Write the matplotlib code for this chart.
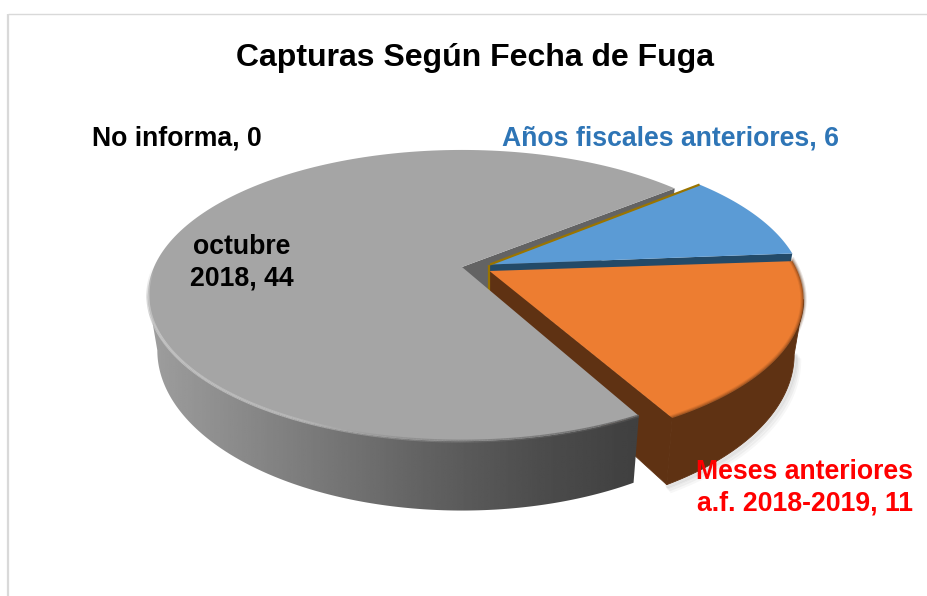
import numpy as np
import matplotlib
matplotlib.use("Agg")
import matplotlib.pyplot as plt
from matplotlib.patches import Polygon
from matplotlib.collections import LineCollection

plt.rcParams['font.family'] = ['Liberation Sans', 'DejaVu Sans']

# --- data ---
title = "Capturas Según Fecha de Fuga"
categories = ["Años fiscales anteriores", "Meses anteriores\na.f. 2018-2019", "octubre\n2018", "No informa"]
values = [6, 11, 44, 0]

# --- style / layout ---
face_colors = ["#5b9bd5", "#ed7d31", "#a5a5a5"]
cut_colors = ["#234a68", "#5f3213", "#636363"]
apexes = [(490, 264.5), (489.5, 271), (462, 267)]
start_angle = 40.0
nudges = [(0, 0), (-0.5, -0.2), (-0.9, -1.3)]  # per-slice drawing offset (start, end) in degrees
A, B, P = 308.0, 140.0, 0.196
A_SCALE, B_SCALE, DEPTH = 0.97, 1.10, 52.0
TANGENT = np.degrees(np.arcsin(P))

fig = plt.figure(figsize=(9.27, 5.96), dpi=100)
ax = fig.add_axes([0, 0, 1, 1])


def project(theta, apex, level=0.0):
    """Perspective projection of the disc rim, level 0=top, 1=bottom."""
    t = np.radians(theta)
    u, v = np.cos(t), np.sin(t)
    w = 1 + P * v
    sa = 1 + (A_SCALE - 1) * level
    sb = 1 + (B_SCALE - 1) * level
    return np.column_stack((apex[0] + sa * A * u / w,
                            apex[1] + DEPTH * level - sb * B * v / w))


total = sum(values)
spans = [v / total * 360 for v in values]
edges = start_angle - np.concatenate(([0], np.cumsum(spans)))

blue_hi, blue_lo = edges[0] + nudges[0][0], edges[1] + nudges[0][1]
orange_hi, orange_lo = edges[1] + nudges[1][0], edges[2] + nudges[1][1]
gray_lo, gray_hi = edges[2] + nudges[2][1], edges[3] + nudges[2][0]


def arc(a0, a1, apex, level=0.0, n=200):
    return project(np.linspace(a0, a1, n), apex, level)


def top_face(a0, a1, apex):
    return np.vstack(([apex], arc(a0, a1, apex)))


def cut_quad(apex, angle):
    ap = np.array(apex, float)
    return np.vstack((ap, project(np.array([angle]), ap), project(np.array([angle]), ap, 1), ap + [0, DEPTH]))


def add_poly(pts, color, z, **kw):
    p = Polygon(pts, closed=True, facecolor=color, edgecolor=kw.pop("edgecolor", "none"), zorder=z, **kw)
    ax.add_patch(p)
    return p


# frame
ax.plot([8, 8], [596, 14], color="#d9d9d9", lw=1.6, zorder=0, solid_capstyle="butt")
ax.plot([8, 927], [14, 14], color="#d9d9d9", lw=1.0, zorder=0, solid_capstyle="butt")

# soft shadow below the orange rim
rim_low = arc(orange_lo, -TANGENT, apexes[1], 1)
for k, al in zip((10, 7, 4, 2), (0.03, 0.04, 0.05, 0.06)):
    ax.plot(rim_low[:, 0] + k * 0.5, rim_low[:, 1] + k * 0.6, color="k", alpha=al, lw=3, zorder=1)

# gray back cut
add_poly(cut_quad(apexes[2], gray_hi), cut_colors[2], 2)

# blue slice with cut faces
add_poly(cut_quad(apexes[0], blue_lo), cut_colors[0], 3)
add_poly(top_face(blue_hi, blue_lo, apexes[0]), face_colors[0], 4)
gold = "#9a7400"
blue_back = np.vstack((apexes[0], project(np.array([blue_hi]), apexes[0])))
ax.plot(blue_back[:, 0], blue_back[:, 1], color=gold, lw=1.6, zorder=6, solid_capstyle="butt")

# orange slice: rim, cut face, top
rim_o = np.vstack((arc(-TANGENT, orange_lo, apexes[1]), arc(orange_lo, -TANGENT, apexes[1], 1)))
add_poly(rim_o, cut_colors[1], 3.5, edgecolor=cut_colors[1], linewidth=0.6)
add_poly(cut_quad(apexes[1], orange_lo), cut_colors[1], 3.5, edgecolor=cut_colors[1], linewidth=0.6)
add_poly(top_face(orange_hi, orange_lo, apexes[1]), face_colors[1], 4.5)
oa = arc(orange_hi, orange_lo, apexes[1])
for lw, al in ((4.5, 0.12), (3, 0.2), (1.5, 0.3)):
    ax.plot(oa[:, 0], oa[:, 1], color=cut_colors[1], alpha=al, lw=lw, zorder=4.6)

# gold vertical at the apex
ap0 = np.array(apexes[0], float)
ax.plot([ap0[0] - 1, ap0[0] - 1], [ap0[1], ap0[1] + DEPTH], color=gold, lw=1.6, zorder=6, solid_capstyle="butt")

# gray rim with horizontal gradient
left_tan = -180 + TANGENT
rim_g = np.vstack((arc(gray_lo, left_tan, apexes[2]), arc(left_tan, gray_lo, apexes[2], 1)))
rim_patch = add_poly(rim_g, "none", 7)
xs = np.linspace(140, 645, 256)
ramp = np.interp(xs, [148, 300, 430, 540, 637], [0.62, 0.49, 0.38, 0.30, 0.25])
im = ax.imshow(np.tile(ramp, (2, 1)), cmap="gray", vmin=0, vmax=1, extent=(140, 645, 520, 280),
               aspect="auto", zorder=7, interpolation="bilinear")
im.set_clip_path(rim_patch)

# gray top
add_poly(top_face(gray_lo, gray_lo - (gray_lo - gray_hi + 360) % 360, apexes[2]), face_colors[2], 8)
ga = arc(gray_lo, -180, apexes[2], n=300)
segs = np.stack((ga[:-1], ga[1:]), axis=1)
frac = np.linspace(0, 1, len(segs))
hl = np.ones((len(segs), 4))
shade = np.interp(frac, [0, 0.2, 0.45, 1], [0.32, 0.42, 0.72, 0.82])
hl[:, 0] = hl[:, 1] = hl[:, 2] = shade
hl[:, 3] = np.interp(frac, [0, 0.2, 0.5, 0.9, 1], [0.7, 0.6, 0.9, 0.9, 0.0])
ax.add_collection(LineCollection(segs, colors=hl, linewidths=2.2, zorder=9))

# texts
ax.text(475, 58, title, fontsize=23.0, fontweight="bold", ha="center", va="center", color="black", zorder=10)
lab = dict(fontsize=19.2, fontweight="bold", ha="center", va="center", zorder=10, linespacing=1.28)
ax.text(177, 139, f"{categories[3]}, {values[3]}", color="black", **lab)
ax.text(670.5, 138, f"{categories[0]}, {values[0]}", color="#2e75b6", **lab)
ax.text(242, 263, f"{categories[2]}, {values[2]}", color="black", **lab)
ax.text(805, 488, f"{categories[1]}, {values[1]}", color="#ff0000", **lab)

ax.set_xlim(0, 927)
ax.set_ylim(596, 0)
ax.axis("off")
fig.savefig("out.png", dpi=100, facecolor="white")
